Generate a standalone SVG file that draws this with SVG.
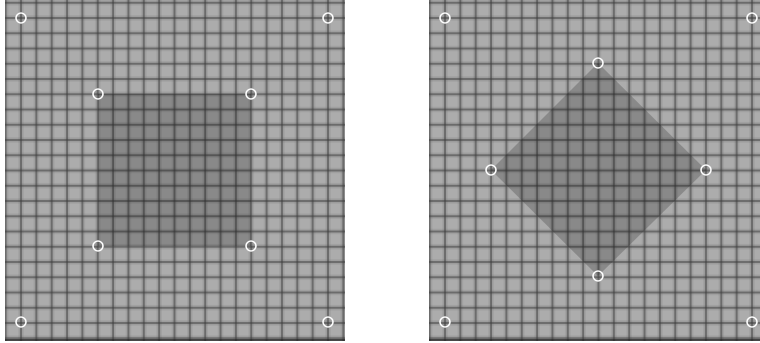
<svg xmlns="http://www.w3.org/2000/svg" width="760" height="343" viewBox="0 0 760 343">
  <style>
    .pt { fill: none; stroke: #ffffff; stroke-width: 1.6; }
    .shade { fill: #000000; fill-opacity: 0.2; }
  </style>
  <defs>
    <pattern id="gridL" patternUnits="userSpaceOnUse" x="13.3" y="10.4" width="15.35" height="15.25">
      <rect width="15.35" height="15.25" fill="#acacac"/>
      <rect x="5.2" y="0" width="5" height="15.25" fill="#6a6a6a" fill-opacity="0.25"/>
      <rect x="0" y="5.1" width="15.35" height="5" fill="#6a6a6a" fill-opacity="0.25"/>
      <rect x="6.9" y="0" width="1.6" height="15.25" fill="#3a3a3a" fill-opacity="0.6"/>
      <rect x="0" y="6.8" width="15.35" height="1.6" fill="#3a3a3a" fill-opacity="0.6"/>
    </pattern>
    <pattern id="gridR" patternUnits="userSpaceOnUse" x="437.3" y="10.4" width="15.35" height="15.25">
      <rect width="15.35" height="15.25" fill="#acacac"/>
      <rect x="5.2" y="0" width="5" height="15.25" fill="#6a6a6a" fill-opacity="0.25"/>
      <rect x="0" y="5.1" width="15.35" height="5" fill="#6a6a6a" fill-opacity="0.25"/>
      <rect x="6.9" y="0" width="1.6" height="15.25" fill="#3a3a3a" fill-opacity="0.6"/>
      <rect x="0" y="6.8" width="15.35" height="1.6" fill="#3a3a3a" fill-opacity="0.6"/>
    </pattern>
  </defs>
  <rect width="760" height="343" fill="#ffffff"/>
  <g id="left-panel">
    <rect x="5" y="0" width="340" height="341" fill="url(#gridL)"/>
    <rect x="5" y="339" width="340" height="2" fill="#222" fill-opacity="0.7"/>
    <rect class="shade" x="98" y="94" width="153" height="152"/>
    <circle class="pt" cx="21" cy="18" r="5"/>
    <circle class="pt" cx="328" cy="18" r="5"/>
    <circle class="pt" cx="98" cy="94" r="5"/>
    <circle class="pt" cx="251" cy="94" r="5"/>
    <circle class="pt" cx="98" cy="246" r="5"/>
    <circle class="pt" cx="251" cy="246" r="5"/>
    <circle class="pt" cx="21" cy="322" r="5"/>
    <circle class="pt" cx="328" cy="322" r="5"/>
  </g>
  <g id="right-panel">
    <rect x="429" y="0" width="331" height="341" fill="url(#gridR)"/>
    <rect x="429" y="339" width="331" height="2" fill="#222" fill-opacity="0.7"/>
    <polygon class="shade" points="598,63 706,170 598,276 491,170"/>
    <circle class="pt" cx="445" cy="18" r="5"/>
    <circle class="pt" cx="752" cy="18" r="5"/>
    <circle class="pt" cx="598" cy="63" r="5"/>
    <circle class="pt" cx="491" cy="170" r="5"/>
    <circle class="pt" cx="706" cy="170" r="5"/>
    <circle class="pt" cx="598" cy="276" r="5"/>
    <circle class="pt" cx="445" cy="322" r="5"/>
    <circle class="pt" cx="752" cy="322" r="5"/>
  </g>
</svg>
